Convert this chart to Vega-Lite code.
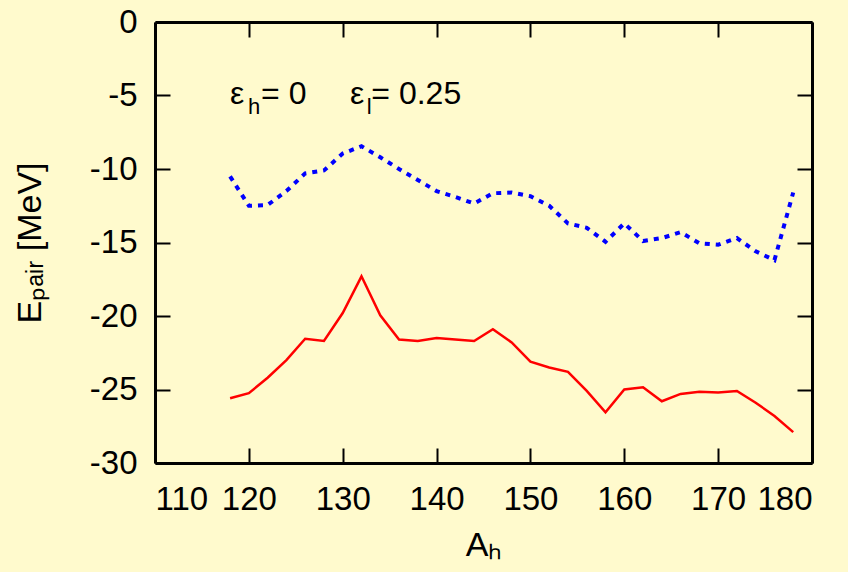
{
  "$schema": "https://vega.github.io/schema/vega-lite/v6.json",
  "width": 657,
  "height": 441,
  "autosize": "none",
  "padding": {"left": 155, "top": 22, "right": 36, "bottom": 109},
  "background": "#fffacd",
  "config": {
    "view": {"stroke": null},
    "font": "Liberation Sans",
    "axis": {
      "domainColor": "#000",
      "domainWidth": 3,
      "tickColor": "#000",
      "tickWidth": 2,
      "tickSize": -15,
      "labelFont": "Liberation Sans",
      "labelFontSize": 33,
      "labelColor": "#000",
      "titleFont": "Liberation Sans",
      "titleFontSize": 34,
      "titleFontWeight": "normal",
      "titleColor": "#000",
      "grid": false
    }
  },
  "datasets": {
    "curves": [
      {"A": 118, "E": -25.6, "series": "red"},
      {"A": 120, "E": -25.25, "series": "red"},
      {"A": 122, "E": -24.2, "series": "red"},
      {"A": 124, "E": -23.0, "series": "red"},
      {"A": 126, "E": -21.55, "series": "red"},
      {"A": 128, "E": -21.7, "series": "red"},
      {"A": 130, "E": -19.8, "series": "red"},
      {"A": 132, "E": -17.3, "series": "red"},
      {"A": 134, "E": -19.95, "series": "red"},
      {"A": 136, "E": -21.6, "series": "red"},
      {"A": 138, "E": -21.7, "series": "red"},
      {"A": 140, "E": -21.5, "series": "red"},
      {"A": 142, "E": -21.6, "series": "red"},
      {"A": 144, "E": -21.7, "series": "red"},
      {"A": 146, "E": -20.9, "series": "red"},
      {"A": 148, "E": -21.8, "series": "red"},
      {"A": 150, "E": -23.1, "series": "red"},
      {"A": 152, "E": -23.5, "series": "red"},
      {"A": 154, "E": -23.8, "series": "red"},
      {"A": 156, "E": -25.1, "series": "red"},
      {"A": 158, "E": -26.55, "series": "red"},
      {"A": 160, "E": -25.0, "series": "red"},
      {"A": 162, "E": -24.85, "series": "red"},
      {"A": 164, "E": -25.8, "series": "red"},
      {"A": 166, "E": -25.3, "series": "red"},
      {"A": 168, "E": -25.15, "series": "red"},
      {"A": 170, "E": -25.2, "series": "red"},
      {"A": 172, "E": -25.1, "series": "red"},
      {"A": 174, "E": -25.9, "series": "red"},
      {"A": 176, "E": -26.8, "series": "red"},
      {"A": 178, "E": -27.9, "series": "red"},
      {"A": 118, "E": -10.5, "series": "blue"},
      {"A": 120, "E": -12.5, "series": "blue"},
      {"A": 122, "E": -12.45, "series": "blue"},
      {"A": 124, "E": -11.5, "series": "blue"},
      {"A": 126, "E": -10.3, "series": "blue"},
      {"A": 128, "E": -10.1, "series": "blue"},
      {"A": 130, "E": -8.95, "series": "blue"},
      {"A": 132, "E": -8.45, "series": "blue"},
      {"A": 134, "E": -9.2, "series": "blue"},
      {"A": 136, "E": -10.0, "series": "blue"},
      {"A": 138, "E": -10.75, "series": "blue"},
      {"A": 140, "E": -11.5, "series": "blue"},
      {"A": 142, "E": -11.9, "series": "blue"},
      {"A": 144, "E": -12.35, "series": "blue"},
      {"A": 146, "E": -11.65, "series": "blue"},
      {"A": 148, "E": -11.6, "series": "blue"},
      {"A": 150, "E": -11.85, "series": "blue"},
      {"A": 152, "E": -12.5, "series": "blue"},
      {"A": 154, "E": -13.7, "series": "blue"},
      {"A": 156, "E": -14.0, "series": "blue"},
      {"A": 158, "E": -14.95, "series": "blue"},
      {"A": 160, "E": -13.7, "series": "blue"},
      {"A": 162, "E": -14.9, "series": "blue"},
      {"A": 164, "E": -14.7, "series": "blue"},
      {"A": 166, "E": -14.3, "series": "blue"},
      {"A": 168, "E": -15.05, "series": "blue"},
      {"A": 170, "E": -15.15, "series": "blue"},
      {"A": 172, "E": -14.7, "series": "blue"},
      {"A": 174, "E": -15.6, "series": "blue"},
      {"A": 176, "E": -16.2, "series": "blue"},
      {"A": 178, "E": -11.6, "series": "blue"}
    ],
    "mainText": [
      {"A": 117.99, "E": -5.6, "t": "ε"},
      {"A": 121.3, "E": -5.6, "t": "= 0"},
      {"A": 130.78, "E": -5.6, "t": "ε"},
      {"A": 133.05, "E": -5.6, "t": "= 0.25"}
    ],
    "subText": [
      {"A": 119.9, "E": -6.25, "t": "h"},
      {"A": 132.55, "E": -6.25, "t": "l"}
    ]
  },
  "layer": [
    {
      "data": {"name": "curves"},
      "transform": [{"filter": "datum.series === 'red'"}],
      "mark": {"type": "line", "color": "#ff0000", "strokeWidth": 2.5, "clip": true},
      "encoding": {
        "x": {
          "field": "A", "type": "quantitative",
          "scale": {"domain": [110, 180], "nice": false, "zero": false},
          "axis": {"orient": "bottom", "values": [110, 120, 130, 140, 150, 160, 170, 180], "title": "Aₕ", "labelPadding": 35, "titlePadding": 12, "labelExpr": "'' + datum.value"}
        },
        "y": {
          "field": "E", "type": "quantitative",
          "scale": {"domain": [-30, 0], "nice": false, "zero": false},
          "axis": {"orient": "left", "values": [0, -5, -10, -15, -20, -25, -30], "title": "Eₚₐᵢᵣ  [MeV]", "labelPadding": 33, "titlePadding": 42, "labelExpr": "'' + datum.value"}
        }
      }
    },
    {
      "data": {"name": "curves"},
      "transform": [{"filter": "datum.series === 'blue'"}],
      "mark": {"type": "line", "color": "#0000ff", "strokeWidth": 4, "strokeDash": [5, 6], "clip": true},
      "encoding": {
        "x": {
          "field": "A", "type": "quantitative",
          "axis": {"orient": "top", "values": [110, 120, 130, 140, 150, 160, 170, 180], "labels": false, "title": null}
        },
        "y": {
          "field": "E", "type": "quantitative",
          "axis": {"orient": "right", "values": [0, -5, -10, -15, -20, -25, -30], "labels": false, "title": null}
        }
      }
    },
    {
      "data": {"name": "mainText"},
      "mark": {"type": "text", "align": "left", "baseline": "alphabetic", "fontSize": 32, "font": "Liberation Sans", "color": "#000"},
      "encoding": {
        "x": {"field": "A", "type": "quantitative", "axis": null},
        "y": {"field": "E", "type": "quantitative", "axis": null},
        "text": {"field": "t"}
      }
    },
    {
      "data": {"name": "subText"},
      "mark": {"type": "text", "align": "left", "baseline": "alphabetic", "fontSize": 22, "font": "Liberation Sans", "color": "#000"},
      "encoding": {
        "x": {"field": "A", "type": "quantitative", "axis": null},
        "y": {"field": "E", "type": "quantitative", "axis": null},
        "text": {"field": "t"}
      }
    }
  ],
  "resolve": {"axis": {"x": "independent", "y": "independent"}}
}
